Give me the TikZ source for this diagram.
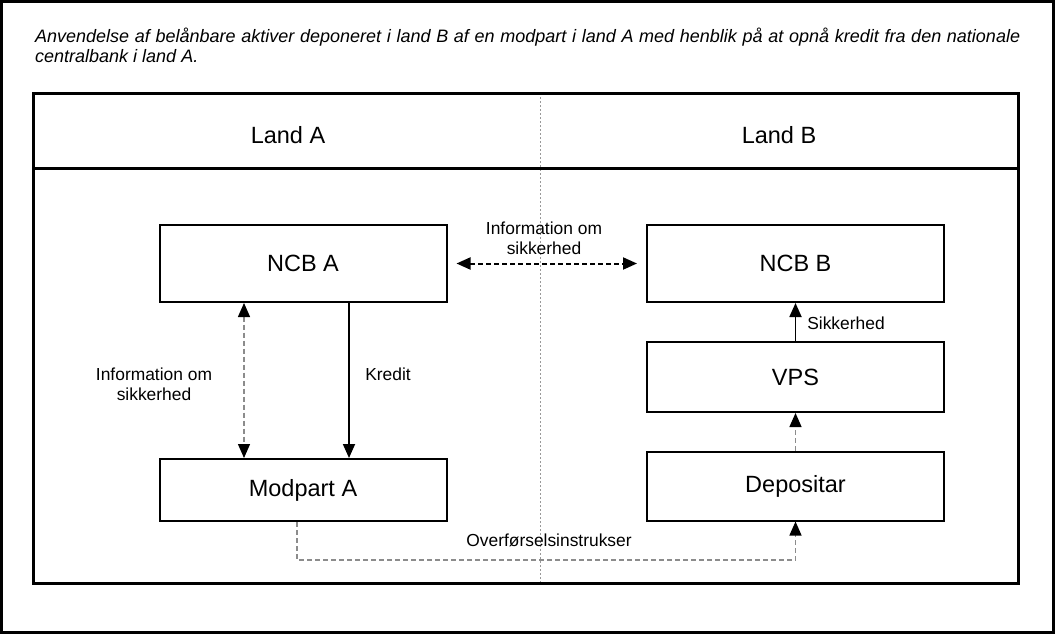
\documentclass[tikz,border=0pt]{standalone}
\usepackage{fontspec}
\setmainfont{Liberation Sans}
\usetikzlibrary{arrows.meta}
\begin{document}
\begin{tikzpicture}[x=1pt,y=-1pt,
  box/.style={draw=black,line width=2pt,fill=white,inner sep=0pt,font=\fontsize{23.5}{26}\selectfont},
  lbl/.style={font=\fontsize{17.4}{20}\selectfont,align=center,inner sep=0pt},
  tip/.style={-{Triangle[length=14pt,width=12pt,color=black]}},
  tips/.style={{Triangle[length=14pt,width=12pt,color=black]}-{Triangle[length=14pt,width=12pt,color=black]}},
  greydash/.style={draw=black!45,line width=1.3pt,dash pattern=on 5pt off 3pt},
  blackdash/.style={draw=black,line width=2pt,dash pattern=on 5pt off 3pt},
  solidarrow/.style={draw=black,line width=1.8pt}
]
\useasboundingbox (0,0) rectangle (1055,634);
% outer image border
\draw[line width=3pt] (1.5,1.5) rectangle (1053.5,632.5);
% title
\node[anchor=north west,inner sep=0pt,text width=985pt,align=justify,
  font=\fontsize{18}{20}\selectfont\itshape] (title) at (35,28)
  {Anvendelse af belånbare aktiver deponeret i land B af en modpart i land A med henblik på at opnå kredit fra den nationale\linebreak centralbank i land A.};
% frame
\draw[black!40,line width=0.9pt,dash pattern=on 2pt off 2pt] (540,93) -- (540,583);
\draw[line width=3pt] (33.5,93.5) rectangle (1018.5,583);
\draw[line width=3pt] (33.5,168.5) -- (1018.5,168.5);
\node[lbl,font=\fontsize{23.5}{26}\selectfont] (landa) at (288,135) {Land A};
\node[lbl,font=\fontsize{23.5}{26}\selectfont] (landb) at (779,135) {Land B};
% boxes
\node[box,minimum width=287pt,minimum height=77pt] (ncba) at (303,263.5) {NCB A};
\node[box,minimum width=297pt,minimum height=77pt] (ncbb) at (795.5,263.5) {NCB B};
\node[box,minimum width=297pt,minimum height=70pt] (vps) at (795.5,377) {VPS};
\node[box,minimum width=297pt,minimum height=69pt] (dep) at (795.5,486) {Depositar};
\node[box,minimum width=287pt,minimum height=62pt] (mod) at (303,490) {Modpart A};
% helper coordinates
\coordinate (xl) at (244,0);
\coordinate (xk) at (349,0);
\coordinate (xo) at (297,0);
\coordinate (yo) at (0,560);
% connectors
\draw[blackdash,tips] ([xshift=9pt]ncba.east) -- ([xshift=-9pt]ncbb.west);
\node[lbl] (info1) at (544,238) {Information om\\sikkerhed};
\draw[greydash,tips] (ncba.south -| xl) -- (mod.north -| xl);
\node[lbl] (info2) at (154,384) {Information om\\sikkerhed};
\draw[solidarrow,tip] (ncba.south -| xk) -- (mod.north -| xk);
\node[lbl] (kredit) at (388,374) {Kredit};
\draw[solidarrow,tip] (vps.north) -- (ncbb.south);
\node[lbl] (sik) at (846,323) {Sikkerhed};
\draw[greydash,tip] (dep.north) -- (vps.south);
\draw[greydash,tip] (mod.south -| xo) -- (xo |- yo) -- (dep.south |- yo) -- (dep.south);
\node[lbl] (overf) at (549,540) {Overførselsinstrukser};
\end{tikzpicture}
\end{document}
